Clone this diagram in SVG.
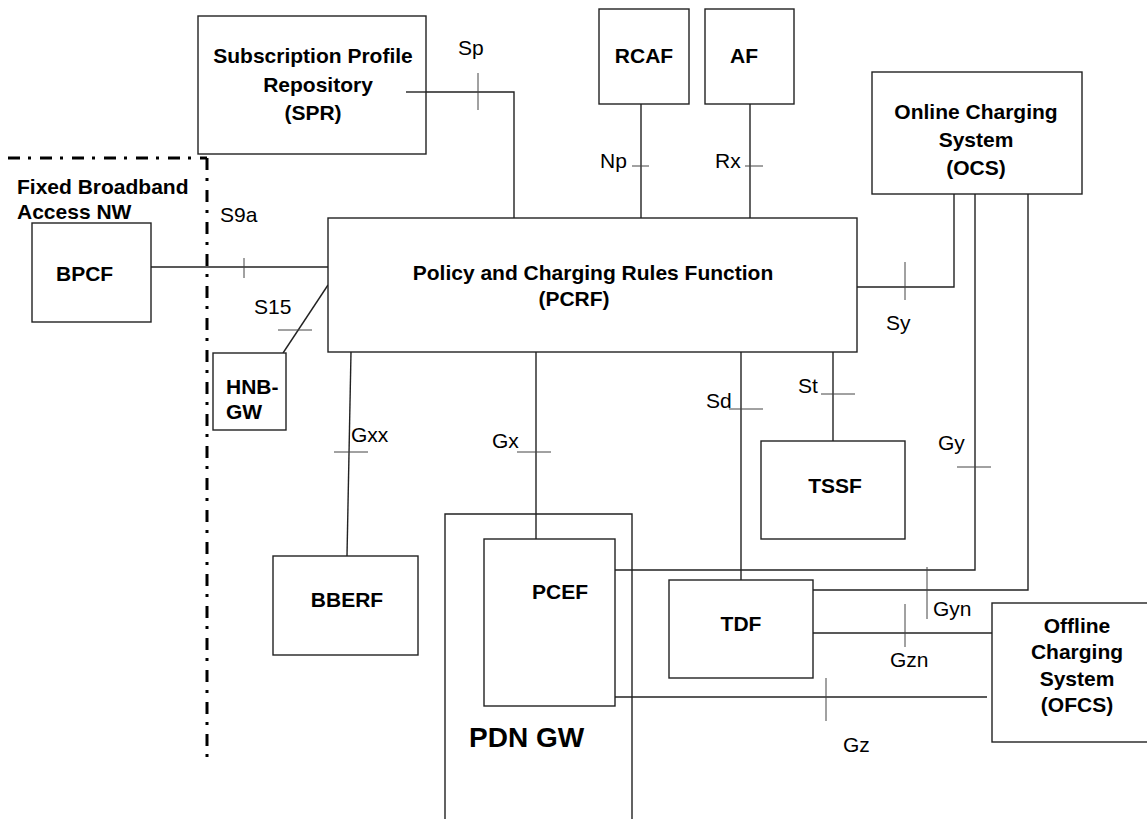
<svg xmlns="http://www.w3.org/2000/svg" width="1147" height="819" viewBox="0 0 1147 819">
<defs>
<style>
.box{fill:#fff;stroke:#222;stroke-width:1.4}
.ln{fill:none;stroke:#222;stroke-width:1.4}
.tk{fill:none;stroke:#444;stroke-width:1}
.b{font-family:"Liberation Sans",Arial,sans-serif;font-weight:bold;font-size:21px;fill:#000}
.r{font-family:"Liberation Sans",Arial,sans-serif;font-size:21px;fill:#000}
.c{text-anchor:middle}
.dd{fill:none;stroke:#000;stroke-width:3;stroke-dasharray:12 8 3 9}
</style>
</defs>
<rect width="1147" height="819" fill="#fff"/>

<g id="boundary">
<line class="dd" x1="8" y1="158" x2="207" y2="158"/>
<line class="dd" x1="207" y1="158" x2="207" y2="760"/>
<text class="b" x="17" y="194">Fixed Broadband</text>
<text class="b" x="17" y="219">Access NW</text>
</g>

<g id="pdngw">
<path class="ln" d="M445,819 V514 H632 V819"/>
<text class="b" x="469" y="747" style="font-size:28px">PDN GW</text>
</g>

<g id="connectors">
<!-- Sp -->
<polyline class="ln" points="406,92 514,92 514,218"/>
<line class="tk" x1="478" y1="73" x2="478" y2="110"/>
<!-- S9a -->
<line class="ln" x1="148" y1="267" x2="328" y2="267"/>
<line class="tk" x1="244" y1="258" x2="244" y2="278"/>
<!-- Np -->
<line class="ln" x1="641" y1="104" x2="641" y2="218"/>
<line class="tk" x1="632" y1="166" x2="649" y2="166"/>
<!-- Rx -->
<line class="ln" x1="750" y1="104" x2="750" y2="218"/>
<line class="tk" x1="745" y1="166" x2="763" y2="166"/>
<!-- Sy -->
<polyline class="ln" points="857,287 954,287 954,194"/>
<line class="tk" x1="905" y1="262" x2="905" y2="300"/>
<!-- S15 -->
<line class="ln" x1="328" y1="285" x2="283" y2="353"/>
<line class="tk" x1="278" y1="330" x2="312" y2="330"/>
<!-- Gxx -->
<line class="ln" x1="351" y1="352" x2="347" y2="556"/>
<line class="tk" x1="334" y1="452" x2="368" y2="452"/>
<!-- Gx -->
<line class="ln" x1="536" y1="352" x2="536" y2="539"/>
<line class="tk" x1="517" y1="452" x2="551" y2="452"/>
<!-- Sd -->
<line class="ln" x1="741" y1="352" x2="741" y2="580"/>
<line class="tk" x1="729" y1="409" x2="763" y2="409"/>
<!-- St -->
<line class="ln" x1="833" y1="352" x2="833" y2="441"/>
<line class="tk" x1="821" y1="394" x2="855" y2="394"/>
<!-- Gy -->
<polyline class="ln" points="975,194 975,570 615,570"/>
<line class="tk" x1="957" y1="467" x2="991" y2="467"/>
<!-- Gyn -->
<polyline class="ln" points="1028,194 1028,590 813,590"/>
<line class="tk" x1="927" y1="567" x2="927" y2="619"/>
<!-- Gzn -->
<line class="ln" x1="813" y1="633" x2="992" y2="633"/>
<line class="tk" x1="905" y1="604" x2="905" y2="647"/>
<!-- Gz -->
<line class="ln" x1="615" y1="697" x2="987" y2="697"/>
<line class="tk" x1="826" y1="678" x2="826" y2="721"/>
<!-- labels -->
<text class="r" x="458" y="55">Sp</text>
<text class="r" x="220" y="222">S9a</text>
<text class="r" x="600" y="168">Np</text>
<text class="r" x="715" y="168">Rx</text>
<text class="r" x="254" y="314">S15</text>
<text class="r" x="351" y="442">Gxx</text>
<text class="r" x="492" y="448">Gx</text>
<text class="r" x="706" y="408">Sd</text>
<text class="r" x="798" y="393">St</text>
<text class="r" x="886" y="330">Sy</text>
<text class="r" x="938" y="450">Gy</text>
<text class="r" x="933" y="616">Gyn</text>
<text class="r" x="890" y="667">Gzn</text>
<text class="r" x="843" y="752">Gz</text>
</g>

<g id="spr">
<rect class="box" x="198" y="16" width="228" height="138"/>
<text class="b c" x="313" y="63">Subscription Profile</text>
<text class="b c" x="318" y="92">Repository</text>
<text class="b c" x="313" y="120">(SPR)</text>
</g>
<line class="ln" x1="406" y1="92" x2="426" y2="92"/>

<g id="rcaf">
<rect class="box" x="599" y="9" width="90" height="95"/>
<text class="b c" x="644" y="63">RCAF</text>
</g>

<g id="af">
<rect class="box" x="705" y="9" width="89" height="95"/>
<text class="b c" x="744" y="63">AF</text>
</g>

<g id="ocs">
<rect class="box" x="872" y="72" width="210" height="122"/>
<text class="b c" x="976" y="119">Online Charging</text>
<text class="b c" x="976" y="147">System</text>
<text class="b c" x="976" y="175">(OCS)</text>
</g>

<g id="bpcf">
<rect class="box" x="32" y="223" width="119" height="99"/>
<text class="b" x="56" y="281">BPCF</text>
</g>

<g id="pcrf">
<rect class="box" x="328" y="218" width="529" height="134"/>
<text class="b c" x="593" y="280">Policy and Charging Rules Function</text>
<text class="b c" x="574" y="306">(PCRF)</text>
</g>

<g id="hnbgw">
<rect class="box" x="213" y="353" width="73" height="77"/>
<text class="b" x="226" y="394">HNB-</text>
<text class="b" x="226" y="419">GW</text>
</g>

<g id="tssf">
<rect class="box" x="761" y="441" width="144" height="98"/>
<text class="b c" x="835" y="493">TSSF</text>
</g>

<g id="bberf">
<rect class="box" x="273" y="556" width="145" height="99"/>
<text class="b c" x="347" y="607">BBERF</text>
</g>

<g id="pcef">
<rect class="box" x="484" y="539" width="131" height="167"/>
<text class="b c" x="560" y="599">PCEF</text>
</g>

<g id="tdf">
<rect class="box" x="669" y="580" width="144" height="98"/>
<text class="b c" x="741" y="631">TDF</text>
</g>

<g id="ofcs">
<rect class="box" x="992" y="603" width="170" height="139"/>
<text class="b c" x="1077" y="633">Offline</text>
<text class="b c" x="1077" y="659">Charging</text>
<text class="b c" x="1077" y="686">System</text>
<text class="b c" x="1077" y="712">(OFCS)</text>
</g>
</svg>
